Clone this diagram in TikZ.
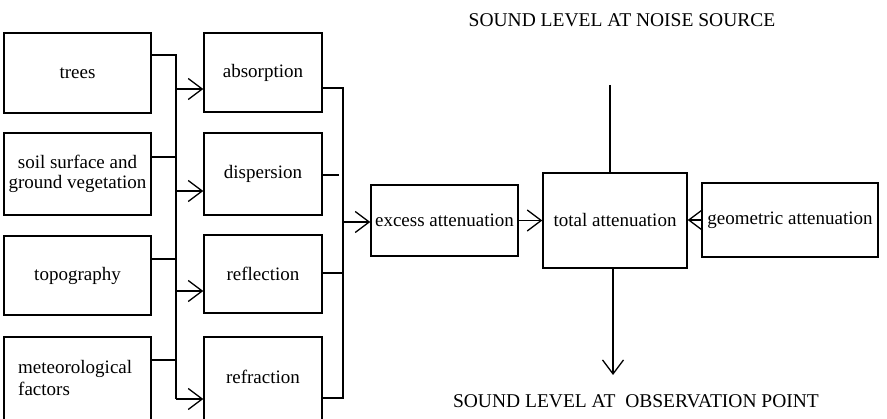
\documentclass[tikz,border=0pt]{standalone}
\usepackage{fontspec}
\setmainfont{Liberation Serif}
\usetikzlibrary{arrows.meta}
\begin{document}
\begin{tikzpicture}[x=1pt,y=-1pt,
  box/.style={draw, line width=1.4pt, rectangle, inner sep=0pt, align=center,
    font=\fontsize{19}{20}\selectfont},
  boxtext/.style={inner sep=0pt, font=\fontsize{19}{22}\selectfont},
  conn/.style={line width=1.3pt},
  arr/.style={line width=1.3pt, -{Straight Barb[length=14pt,width=21pt]}},
  lbl/.style={font=\fontsize{19.5}{22}\selectfont, inner sep=0pt}]
\useasboundingbox (0,0) rectangle (887,419);
\clip (0,0) rectangle (887,419);
% left column
\node[box, minimum width=147pt, minimum height=80pt] (trees) at (77.5,73) {trees};
\node[box, minimum width=147pt, minimum height=82pt] (soil) at (77.5,174) {soil surface and\\ground vegetation};
\node[box, minimum width=147pt, minimum height=79pt] (topo) at (77.5,275.5) {topography};
\node[box, minimum width=147pt, minimum height=90pt] (meteo) at (77.5,382) {};
\node[boxtext, align=left, anchor=west] (meteoT) at (18,378) {meteorological\\factors};
% middle column
\node[box, minimum width=118pt, minimum height=79pt] (absorption) at (263,72.5) {absorption};
\node[box, minimum width=118pt, minimum height=82pt] (dispersion) at (263,174) {dispersion};
\node[box, minimum width=118pt, minimum height=78pt] (reflection) at (263,274) {reflection};
\node[box, minimum width=118pt, minimum height=90pt] (refraction) at (263,382) {};
\node[boxtext] (refractionT) at (263,377) {refraction};
% right part
\node[box, minimum width=147pt, minimum height=71pt] (excess) at (444.5,220.5) {excess attenuation};
\node[box, minimum width=144pt, minimum height=95pt] (total) at (615,220.5) {total attenuation};
\node[box, minimum width=176pt, minimum height=74pt] (geom) at (790,220) {geometric attenuation};
\node[lbl] (src) at (622,20) {SOUND LEVEL AT NOISE SOURCE};
\node[lbl] (obs) at (636,401) {SOUND LEVEL AT\ \ OBSERVATION POINT};
% left bus
\coordinate (lbTop) at (176,55);
\coordinate (lbBot) at (176,399);
\coordinate (l2) at (176,157);
\coordinate (l3) at (176,259);
\coordinate (l4) at (176,360);
\coordinate (a1) at (176,89);
\coordinate (a2) at (176,191);
\coordinate (a3) at (176,291);
\draw[conn] (trees.east |- lbTop) -- (lbTop) -- (lbBot);
\draw[conn] (soil.east |- l2) -- (l2);
\draw[conn] (topo.east |- l3) -- (l3);
\draw[conn] (meteo.east |- l4) -- (l4);
\draw[arr] (a1) -- (absorption.west |- a1);
\draw[arr] (a2) -- (dispersion.west |- a2);
\draw[arr] (a3) -- (reflection.west |- a3);
\draw[arr] (lbBot) -- (refraction.west |- lbBot);
% right bus
\coordinate (rbTop) at (343,88);
\coordinate (rbBot) at (343,398);
\coordinate (r2) at (339,175);
\coordinate (r3) at (343,273);
\coordinate (rm) at (343,222);
\draw[conn] (absorption.east |- rbTop) -- (rbTop) -- (rbBot) -- (refraction.east |- rbBot);
\draw[conn] (dispersion.east |- r2) -- (r2);
\draw[conn] (reflection.east |- r3) -- (r3);
\draw[arr] (rm) -- (excess.west |- rm);
\draw[arr] (excess.east) -- (total.west |- excess.east);
\draw[arr] (geom.west) -- (total.east |- geom.west);
% vertical through total
\coordinate (vTop) at (610,85);
\coordinate (vBot) at (613,375);
\draw[conn] (vTop) -- (vTop |- total.north);
\draw[arr] (total.south -| vBot) -- (vBot);
\end{tikzpicture}
\end{document}
